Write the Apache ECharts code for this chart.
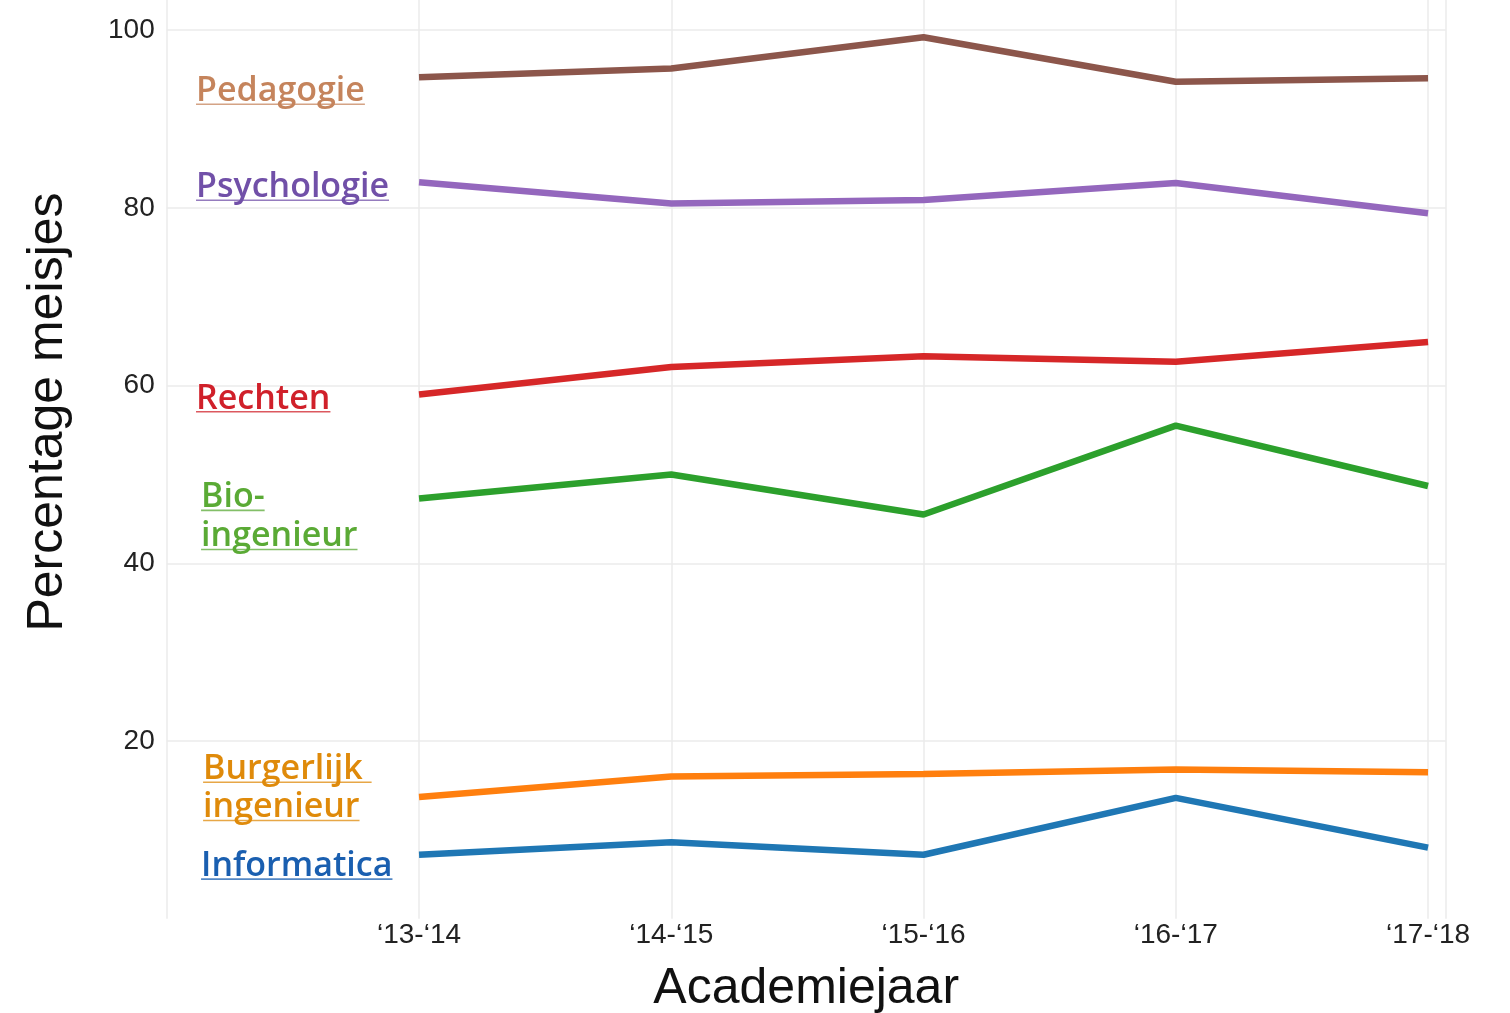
<!DOCTYPE html>
<html><head><meta charset="utf-8">
<script src="https://cdn.jsdelivr.net/npm/echarts@6/dist/echarts.min.js"></script>
<style>html,body{margin:0;padding:0;background:#fff}#c{width:1510px;height:1013px}</style>
</head><body><div id="c"></div>
<script>
// ---- data ----
const years = ['‘13-‘14', '‘14-‘15', '‘15-‘16', '‘16-‘17', '‘17-‘18'];
const yTicks = [20, 40, 60, 80, 100];
const pedagogie   = [94.7, 95.7, 99.2, 94.2, 94.6];
const psychologie = [82.9, 80.5, 80.9, 82.8, 79.4];
const rechten     = [59.0, 62.1, 63.3, 62.7, 64.9];
const bioIng      = [47.3, 50.0, 45.5, 55.5, 48.7];
const burgIng     = [13.7, 16.0, 16.3, 16.8, 16.5];
const informatica = [7.2, 8.6, 7.2, 13.6, 8.0];

const seriesDefs = [
  {name: 'Pedagogie', data: pedagogie, color: '#8c564b', label: ['Pedagogie'], labelColor: '#c5845c', lx: -0.884, ly: [93.1]},
  {name: 'Psychologie', data: psychologie, color: '#9467bd', label: ['Psychologie'], labelColor: '#7150a8', lx: -0.884, ly: [82.3]},
  {name: 'Rechten', data: rechten, color: '#d62728', label: ['Rechten'], labelColor: '#d0202a', lx: -0.884, ly: [58.5]},
  {name: 'Bio-ingenieur', data: bioIng, color: '#2ca02c', label: ['Bio-', 'ingenieur'], labelColor: '#5aaa35', lx: -0.864, ly: [47.4, 43.0]},
  {name: 'Burgerlijk ingenieur', data: burgIng, color: '#ff7f0e', label: ['Burgerlijk ', 'ingenieur'], labelColor: '#df8a0a', lx: -0.856, ly: [16.8, 12.5]},
  {name: 'Informatica', data: informatica, color: '#1f77b4', label: ['Informatica'], labelColor: '#1a5fb0', lx: -0.864, ly: [5.9]}
];

const gridColor = '#ebebeb';
const axisFont = 'Liberation Sans, Helvetica, Arial, sans-serif';

const option = {
  backgroundColor: '#ffffff',
  animation: false,
  grid: {left: 166.75, right: 64.3, top: 0, bottom: 94.25, containLabel: false, outerBoundsMode: 'none'},
  xAxis: {
    type: 'value', min: -1, max: 4.07, interval: 1,
    name: 'Academiejaar', nameLocation: 'middle', nameGap: 45,
    nameTextStyle: {fontFamily: axisFont, fontSize: 50, color: '#111'},
    axisLine: {show: false}, axisTick: {show: false},
    axisLabel: {
      formatter: v => (v >= 0 && years[v] !== undefined) ? years[v] : '',
      fontFamily: axisFont, fontSize: 28, color: '#222', margin: 3
    },
    splitLine: {show: true, lineStyle: {color: gridColor, width: 1.5}}
  },
  yAxis: {
    type: 'value', min: 0, max: 103.4, interval: 20,
    axisLine: {show: false}, axisTick: {show: false},
    axisLabel: {
      formatter: v => yTicks.indexOf(v) >= 0 ? String(v) : '',
      fontFamily: axisFont, fontSize: 28, color: '#222', margin: 12
    },
    splitLine: {show: true, lineStyle: {color: ['rgba(0,0,0,0)', gridColor, gridColor, gridColor, gridColor, gridColor], width: 1.5}}
  },
  series: seriesDefs.map(s => ({
    name: s.name, type: 'line', symbol: 'none', silent: true,
    data: s.data.map((v, i) => [i, v]),
    lineStyle: {color: s.color, width: 6.5},
    itemStyle: {color: s.color}
  }))
};

const chart = echarts.init(document.getElementById('c'));
chart.setOption(option);

const labelFont = '600 34px "Open Sans", sans-serif';
const ctx = document.createElement('canvas').getContext('2d');
ctx.font = labelFont;
const graphics = [];
seriesDefs.forEach(s => {
  s.label.forEach((t, i) => {
    const p = chart.convertToPixel({gridIndex: 0}, [s.lx, s.ly[i]]);
    const w = ctx.measureText(t).width;
    graphics.push({type: 'text', x: p[0], y: p[1], z: 10,
      style: {text: t, font: labelFont, fill: s.labelColor, align: 'left', verticalAlign: 'middle'}});
    graphics.push({type: 'rect', z: 10, shape: {x: p[0], y: p[1] + 12, width: w, height: 1.6},
      style: {fill: s.labelColor, opacity: 0.75}});
  });
});
graphics.push({type: 'text', x: 48, y: 412, rotation: Math.PI / 2,
  style: {text: 'Percentage meisjes', font: '50px ' + axisFont, fill: '#111', align: 'center', verticalAlign: 'middle'}});
chart.setOption({graphic: graphics});
</script>
</body></html>
